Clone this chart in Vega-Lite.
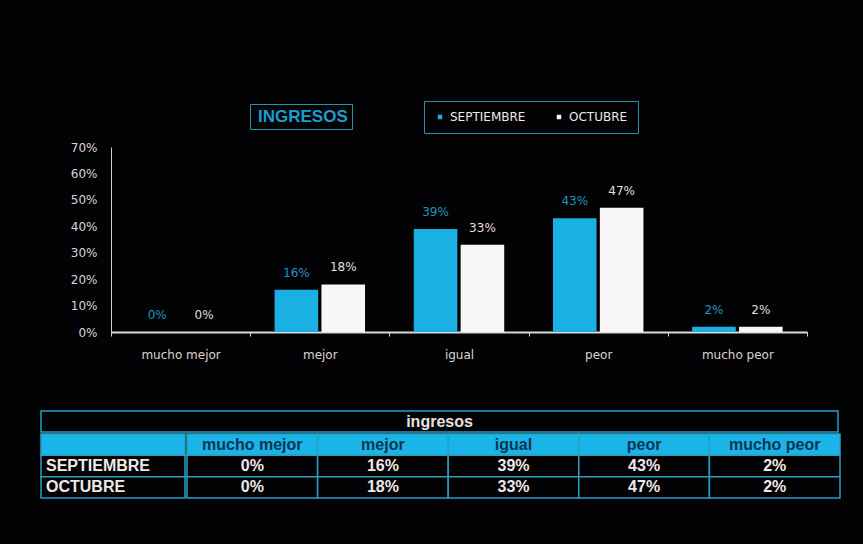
{
  "$schema": "https://vega.github.io/schema/vega-lite/v6.json",
  "background": "#030204",
  "padding": {"left": 40, "top": 100, "right": 26, "bottom": 48},
  "config": {"font": "Liberation Sans", "view": {"stroke": null}},
  "datasets": {
    "ingresos": [
      {"cat": "mucho mejor", "mes": "SEPTIEMBRE", "valor": 0},
      {"cat": "mejor", "mes": "SEPTIEMBRE", "valor": 0.16},
      {"cat": "igual", "mes": "SEPTIEMBRE", "valor": 0.39},
      {"cat": "peor", "mes": "SEPTIEMBRE", "valor": 0.43},
      {"cat": "mucho peor", "mes": "SEPTIEMBRE", "valor": 0.02},
      {"cat": "mucho mejor", "mes": "OCTUBRE", "valor": 0},
      {"cat": "mejor", "mes": "OCTUBRE", "valor": 0.18},
      {"cat": "igual", "mes": "OCTUBRE", "valor": 0.33},
      {"cat": "peor", "mes": "OCTUBRE", "valor": 0.47},
      {"cat": "mucho peor", "mes": "OCTUBRE", "valor": 0.02}
    ],
    "titulo": [{"titulo": "INGRESOS"}],
    "filas": [
      {"fila": "hdr", "etiqueta": ""},
      {"fila": "SEPTIEMBRE", "etiqueta": "SEPTIEMBRE"},
      {"fila": "OCTUBRE", "etiqueta": "OCTUBRE"}
    ],
    "columnas": [
      {"cat": "mucho mejor"},
      {"cat": "mejor"},
      {"cat": "igual"},
      {"cat": "peor"},
      {"cat": "mucho peor"}
    ]
  },
  "spacing": 50,
  "resolve": {"scale": {"x": "independent", "y": "independent", "color": "independent"}},
  "vconcat": [
    {
      "spacing": 20,
      "hconcat": [
        {
          "width": 9,
          "height": 185,
          "data": {"values": [{"vacio": ""}]},
          "mark": {"type": "text", "opacity": 0},
          "encoding": {"text": {"field": "vacio", "type": "nominal"}}
        },
        {
          "width": 696,
          "height": 185,
          "data": {"name": "ingresos"},
          "encoding": {
            "x": {
              "field": "cat", "type": "nominal",
              "sort": ["mucho mejor", "mejor", "igual", "peor", "mucho peor"],
              "scale": {"paddingInner": 0, "paddingOuter": 0},
              "axis": {"title": null, "labelAngle": 0, "tickBand": "extent", "domainColor": "#dcd8d8", "domainWidth": 2, "tickColor": "#dcd8d8", "tickSize": 4, "labelColor": "#dcd4d4", "labelFont": "DejaVu Sans", "labelFontSize": 12, "labelPadding": 13}
            },
            "xOffset": {
              "field": "mes", "type": "nominal", "sort": ["SEPTIEMBRE", "OCTUBRE"],
              "scale": {"paddingInner": 0.07, "paddingOuter": 0.52}
            },
            "y": {
              "field": "valor", "type": "quantitative",
              "scale": {"domain": [0, 0.7]},
              "axis": {"title": null, "format": ".0%", "values": [0, 0.1, 0.2, 0.3, 0.4, 0.5, 0.6, 0.7], "labelOverlap": false, "grid": false, "domainColor": "#dccccc", "tickSize": 0, "labelPadding": 14, "labelColor": "#dcd4d4", "labelFont": "DejaVu Sans", "labelFontSize": 12}
            }
          },
          "layer": [
            {
              "mark": {"type": "bar"},
              "encoding": {
                "color": {
                  "field": "mes", "type": "nominal",
                  "scale": {"domain": ["SEPTIEMBRE", "OCTUBRE"], "range": ["#1ab0e4", "#f8f6f6"]},
                  "legend": {"title": null, "orient": "none", "legendX": 383, "legendY": -46, "direction": "horizontal", "gridAlign": "all", "strokeColor": "#2a8fac", "fillColor": "#030204", "padding": 10, "symbolType": "square", "symbolSize": 20, "symbolStrokeWidth": 0, "labelColor": "#f0eaea", "labelFont": "DejaVu Sans", "labelFontSize": 12, "columnPadding": 27, "labelOffset": 4}
                }
              }
            },
            {
              "mark": {"type": "text", "baseline": "bottom", "dy": -10, "font": "DejaVu Sans", "fontSize": 12},
              "encoding": {
                "text": {"field": "valor", "type": "quantitative", "format": ".0%"},
                "color": {"condition": {"test": "datum.mes === 'SEPTIEMBRE'", "value": "#2296c0"}, "value": "#e4dede"}
              }
            },
            {
              "data": {"name": "titulo"},
              "mark": {"type": "point", "opacity": 0},
              "encoding": {
                "x": null,
                "xOffset": null,
                "y": null,
                "shape": {
                  "field": "titulo", "type": "nominal",
                  "legend": {"title": null, "orient": "none", "legendX": 209, "legendY": -43, "strokeColor": "#2a8fac", "fillColor": "#030204", "padding": 4, "symbolSize": 0, "symbolOpacity": 0, "labelOffset": -13, "labelColor": "#1c9cd0", "labelFontSize": 17, "labelFontWeight": "bold"}
                }
              }
            }
          ]
        }
      ]
    },
    {
      "spacing": 0,
      "vconcat": [
        {
          "width": 797,
          "height": 21,
          "view": {"stroke": "#2aa0c0", "strokeWidth": 1.5, "fill": "#030204"},
          "data": {"values": [{"t": "ingresos"}]},
          "mark": {"type": "text", "fontSize": 16, "fontWeight": "bold", "color": "#e8e2e2"},
          "encoding": {"text": {"field": "t", "type": "nominal"}}
        },
        {
          "spacing": 0,
          "hconcat": [
            {
              "width": 144,
              "height": 64,
              "data": {"name": "filas"},
              "layer": [
                {
                  "mark": {"type": "rect", "stroke": "#2aa0c0", "strokeWidth": 1.5},
                  "encoding": {
                    "y": {"field": "fila", "type": "nominal", "sort": ["hdr", "SEPTIEMBRE", "OCTUBRE"], "scale": {"paddingInner": 0, "paddingOuter": 0}, "axis": null},
                    "fill": {"condition": {"test": "datum.fila === 'hdr'", "value": "#19b4e8"}, "value": "#030204"}
                  }
                },
                {
                  "mark": {"type": "text", "align": "left", "x": 5, "fontSize": 16, "fontWeight": "bold", "color": "#efe8e8"},
                  "encoding": {
                    "y": {"field": "fila", "type": "nominal", "sort": ["hdr", "SEPTIEMBRE", "OCTUBRE"], "axis": null},
                    "text": {"field": "etiqueta", "type": "nominal"}
                  }
                }
              ]
            },
            {
              "width": 653,
              "height": 64,
              "layer": [
                {
                  "data": {"name": "columnas"},
                  "mark": {"type": "rect", "fill": "#19b4e8", "stroke": "#2aa0c0", "strokeWidth": 1.5},
                  "encoding": {
                    "x": {"field": "cat", "type": "nominal", "sort": ["mucho mejor", "mejor", "igual", "peor", "mucho peor"], "scale": {"paddingInner": 0, "paddingOuter": 0}, "axis": null},
                    "y": {"datum": "hdr", "type": "nominal", "scale": {"domain": ["hdr", "SEPTIEMBRE", "OCTUBRE"], "paddingInner": 0, "paddingOuter": 0}, "axis": null}
                  }
                },
                {
                  "data": {"name": "columnas"},
                  "mark": {"type": "text", "fontSize": 16, "fontWeight": "bold", "color": "#0d3552"},
                  "encoding": {
                    "x": {"field": "cat", "type": "nominal", "sort": ["mucho mejor", "mejor", "igual", "peor", "mucho peor"], "axis": null},
                    "y": {"datum": "hdr", "type": "nominal", "axis": null},
                    "text": {"field": "cat", "type": "nominal"}
                  }
                },
                {
                  "data": {"name": "ingresos"},
                  "mark": {"type": "rect", "fill": "#030204", "stroke": "#2aa0c0", "strokeWidth": 1.5},
                  "encoding": {
                    "x": {"field": "cat", "type": "nominal", "sort": ["mucho mejor", "mejor", "igual", "peor", "mucho peor"], "axis": null},
                    "y": {"field": "mes", "type": "nominal", "axis": null}
                  }
                },
                {
                  "data": {"name": "ingresos"},
                  "mark": {"type": "text", "fontSize": 16, "fontWeight": "bold", "color": "#efe8e8"},
                  "encoding": {
                    "x": {"field": "cat", "type": "nominal", "sort": ["mucho mejor", "mejor", "igual", "peor", "mucho peor"], "axis": null},
                    "y": {"field": "mes", "type": "nominal", "axis": null},
                    "text": {"field": "valor", "type": "quantitative", "format": ".0%"}
                  }
                }
              ]
            }
          ]
        }
      ]
    }
  ]
}
